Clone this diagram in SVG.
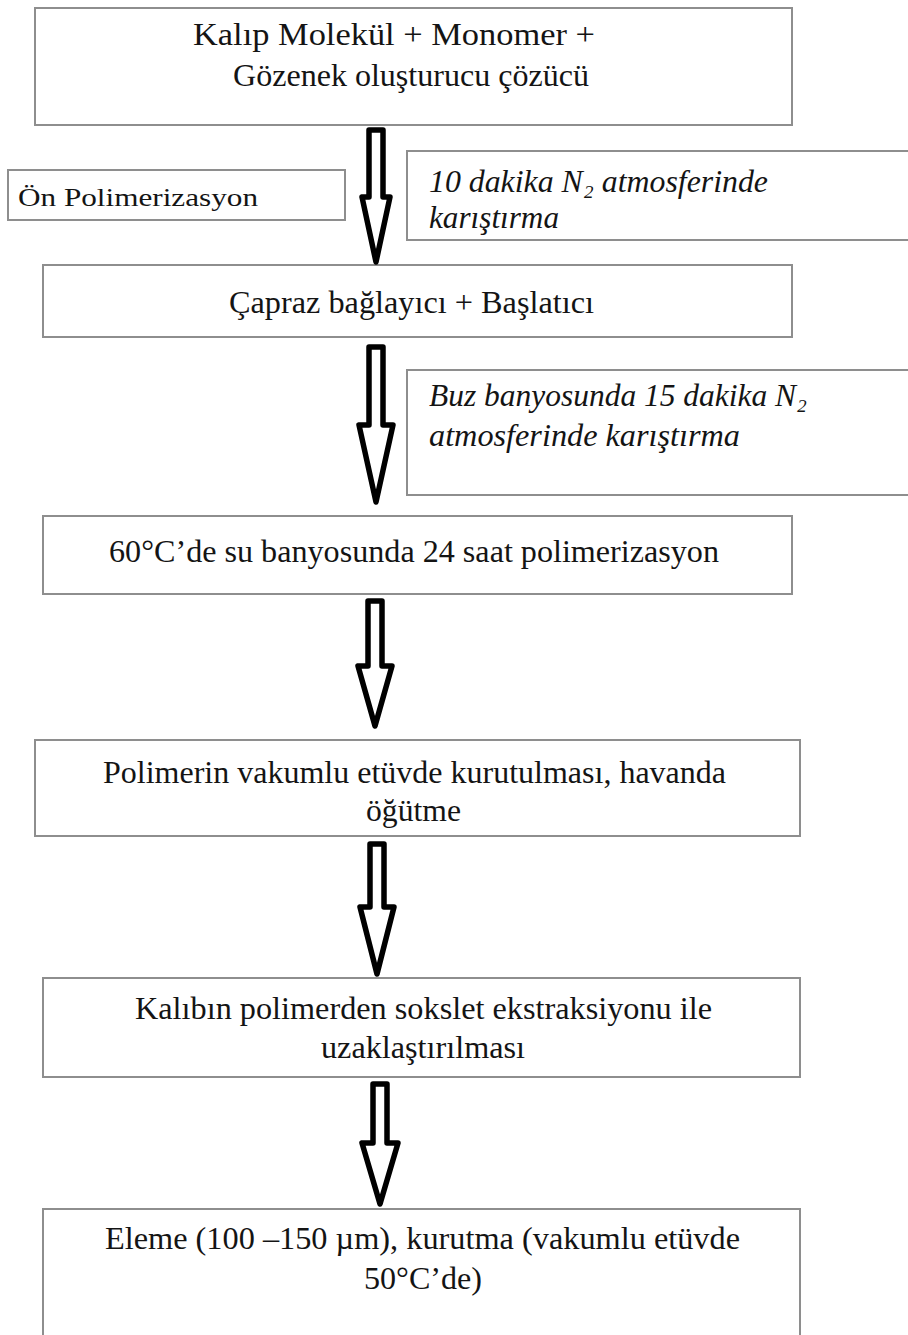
<svg xmlns="http://www.w3.org/2000/svg" width="908" height="1335" viewBox="0 0 908 1335">
<style>
.box{fill:#fff;stroke:#8e8e8e;stroke-width:2}
.t{font-family:"Liberation Serif","Times New Roman",serif;font-size:32px;fill:#141414}
.i{font-style:italic}
.arr{fill:#fff;stroke:#000;stroke-width:5.5;stroke-linejoin:round}
</style>
<rect width="908" height="1335" fill="#fff"/>
<g id="n1"><rect class="box" x="35" y="8" width="757" height="117"/>
<text class="t" x="193" y="45" textLength="402" lengthAdjust="spacingAndGlyphs">Kalıp Molekül  +  Monomer +</text>
<text class="t" x="233" y="86" textLength="356" lengthAdjust="spacingAndGlyphs">Gözenek oluşturucu çözücü</text></g>
<g id="n2"><rect class="box" x="8" y="170" width="337" height="50"/>
<text class="t" x="18" y="206" style="font-size:26px" textLength="240" lengthAdjust="spacingAndGlyphs">Ön Polimerizasyon</text></g>
<g id="n3"><rect class="box" x="407" y="151" width="510" height="89"/>
<text class="t i" x="429" y="192" textLength="339" lengthAdjust="spacingAndGlyphs">10 dakika N₂ atmosferinde</text>
<text class="t i" x="429" y="228" textLength="130" lengthAdjust="spacingAndGlyphs">karıştırma</text></g>
<g id="n4"><rect class="box" x="43" y="265" width="749" height="72"/>
<text class="t" x="229" y="313" textLength="365" lengthAdjust="spacingAndGlyphs">Çapraz bağlayıcı + Başlatıcı</text></g>
<g id="n5"><rect class="box" x="407" y="370" width="510" height="125"/>
<text class="t i" x="429" y="406" textLength="378" lengthAdjust="spacingAndGlyphs">Buz banyosunda 15 dakika N₂</text>
<text class="t i" x="429" y="446" textLength="311" lengthAdjust="spacingAndGlyphs">atmosferinde karıştırma</text></g>
<g id="n6"><rect class="box" x="43" y="516" width="749" height="78"/>
<text class="t" x="109" y="562" textLength="610" lengthAdjust="spacingAndGlyphs">60°C’de su banyosunda 24 saat polimerizasyon</text></g>
<g id="n7"><rect class="box" x="35" y="740" width="765" height="96"/>
<text class="t" x="103" y="783" textLength="623" lengthAdjust="spacingAndGlyphs">Polimerin vakumlu etüvde kurutulması, havanda</text>
<text class="t" x="366" y="821" textLength="95" lengthAdjust="spacingAndGlyphs">öğütme</text></g>
<g id="n8"><rect class="box" x="43" y="978" width="757" height="99"/>
<text class="t" x="135" y="1019" textLength="577" lengthAdjust="spacingAndGlyphs">Kalıbın polimerden sokslet ekstraksiyonu ile</text>
<text class="t" x="321" y="1058" textLength="204" lengthAdjust="spacingAndGlyphs">uzaklaştırılması</text></g>
<g id="n9"><rect class="box" x="43" y="1209" width="757" height="140"/>
<text class="t" x="105" y="1249" textLength="635" lengthAdjust="spacingAndGlyphs">Eleme (100 –150 µm), kurutma (vakumlu etüvde</text>
<text class="t" x="364" y="1289" textLength="118" lengthAdjust="spacingAndGlyphs">50°C’de)</text></g>
<g id="connectors">
<path class="arr" d="M369,130 H383 V197 H390 L376,262 L362,197 H369 Z"/>
<path class="arr" d="M369,347 H383 V425 H393 L376,502 L359,425 H369 Z"/>
<path class="arr" d="M368,601 H382 V666 H392 L375,726 L358,666 H368 Z"/>
<path class="arr" d="M370,844 H384 V907 H394 L377,974 L360,907 H370 Z"/>
<path class="arr" d="M373,1084 H387 V1143 H398 L380,1204 L362,1143 H373 Z"/>
</g>
</svg>
